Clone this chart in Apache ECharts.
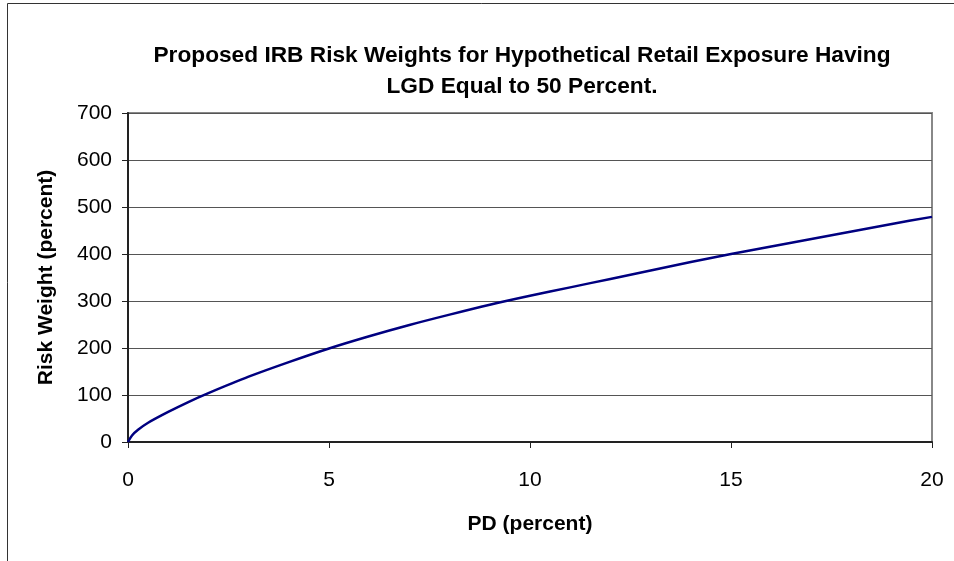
<!DOCTYPE html>
<html>
<head>
<meta charset="utf-8">
<script src="https://cdn.jsdelivr.net/npm/echarts@6/dist/echarts.min.js"></script>
<style>
  html, body { margin: 0; padding: 0; background: #fff; }
  #chart { width: 954px; height: 561px; }
</style>
</head>
<body>
<div id="chart"></div>
<script>
// PD (percent)
var pdValues = [0, 0.1, 0.25, 0.5, 1, 1.5, 2, 3, 4, 5, 6, 7, 8, 9, 10, 11, 12, 13, 14, 15, 16, 17, 18, 19, 20];
// risk weight (percent) at each PD
var riskWeights = [0, 14, 26, 41, 64, 85, 104, 139, 170, 199, 225, 249, 271, 292, 311, 329, 347, 365, 383, 400, 416, 432, 448, 464, 479];
var xTicks = [0, 5, 10, 15, 20];
var yTicks = [0, 100, 200, 300, 400, 500, 600, 700];

var titleText = 'Proposed IRB Risk Weights for Hypothetical Retail Exposure Having\nLGD Equal to 50 Percent.';

var chart = echarts.init(document.getElementById('chart'));

//组合数据点
var points = [];
for (var i = 0; i < pdValues.length; i++) {
    points.push([pdValues[i], riskWeights[i]]);
}

var font = '"Liberation Sans", Arial, sans-serif';

chart.setOption({
    animation: false,
    backgroundColor: '#fff',
    graphic: [{
        //外框
        type: 'rect',
        shape: { x: 7.5, y: 3.5, width: 960, height: 570 },
        style: { fill: 'none', stroke: '#333', lineWidth: 1 },
        silent: true
    }],
    title: {
        text: titleText,
        left: 517,
        top: 35,
        textAlign: 'center',
        textStyle: {
            fontFamily: font,
            fontWeight: 'bold',
            fontSize: 22.7,
            lineHeight: 31,
            color: '#000'
        }
    },
    grid: {
        left: 128,
        right: 22,
        top: 113,
        bottom: 119,
        show: true,
        borderColor: '#888',
        borderWidth: 2,
        containLabel: false
    },
    xAxis: {
        type: 'value',
        min: xTicks[0],
        max: xTicks[xTicks.length - 1],
        interval: 5,
        name: 'PD (percent)',
        nameLocation: 'middle',
        nameGap: 72,
        nameTextStyle: { fontFamily: font, fontWeight: 'bold', fontSize: 21, color: '#000' },
        axisLine: { onZero: false, lineStyle: { color: '#222', width: 2 } },
        axisTick: { show: true, length: 6, lineStyle: { color: '#222' } },
        axisLabel: { margin: 28, fontFamily: font, fontSize: 21, color: '#000' },
        splitLine: { show: false }
    },
    yAxis: {
        type: 'value',
        min: yTicks[0],
        max: yTicks[yTicks.length - 1],
        interval: 100,
        name: 'Risk Weight (percent)',
        nameLocation: 'middle',
        nameGap: 71,
        nameRotate: 90,
        nameTextStyle: { fontFamily: font, fontWeight: 'bold', fontSize: 21, color: '#000' },
        axisLine: { show: true, lineStyle: { color: '#222', width: 2 } },
        axisTick: { show: true, length: 6, lineStyle: { color: '#222' } },
        axisLabel: { margin: 16, fontFamily: font, fontSize: 21, color: '#000' },
        splitLine: { show: true, lineStyle: { color: '#555', width: 1 } }
    },
    series: [{
        type: 'line',
        data: points,
        smooth: 0.3,
        showSymbol: false,
        lineStyle: { color: '#000080', width: 2.5 }
    }]
});
</script>
</body>
</html>
